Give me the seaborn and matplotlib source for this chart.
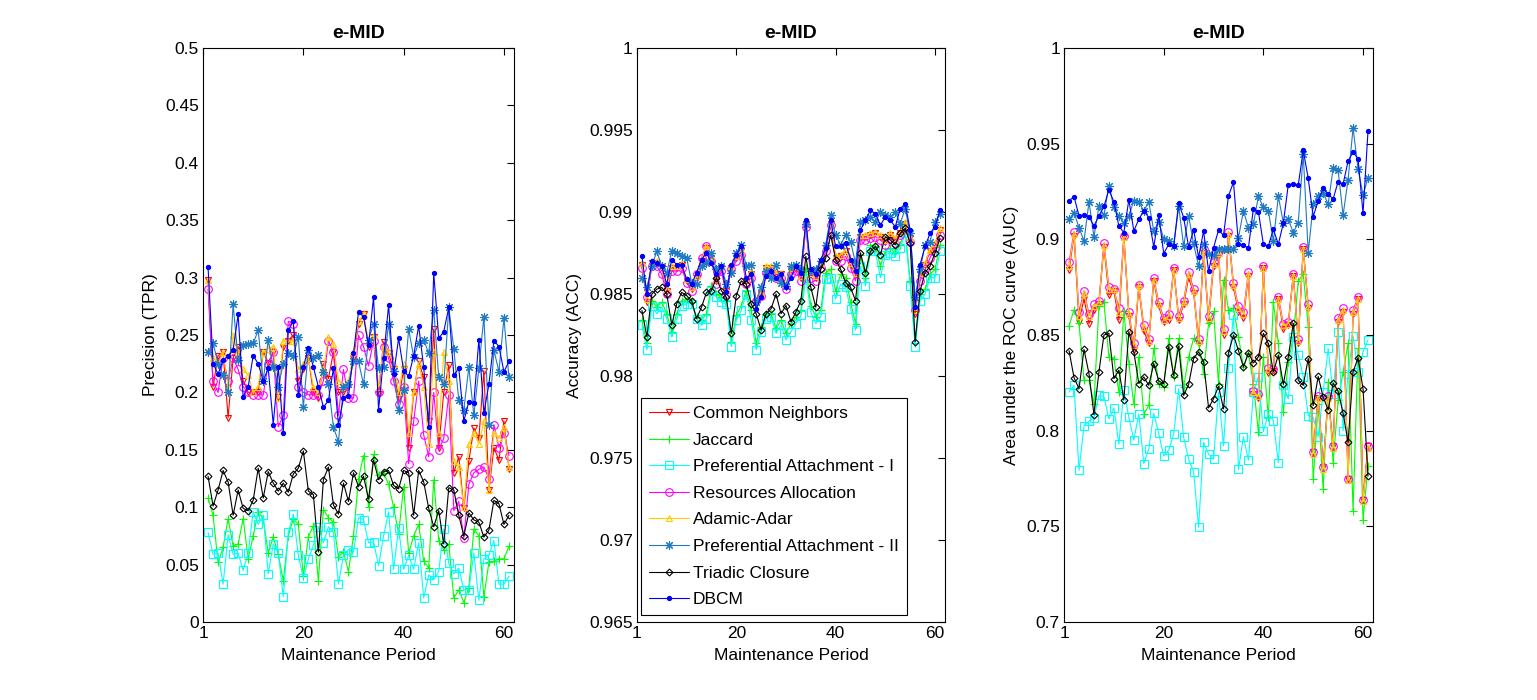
import matplotlib
matplotlib.use("Agg")
import matplotlib.pyplot as plt
import seaborn as sns

# ---------------- data ----------------
series_names = ["Common Neighbors", "Jaccard", "Preferential Attachment - I",
                "Resources Allocation", "Adamic-Adar", "Preferential Attachment - II",
                "Triadic Closure", "DBCM"]
x_ticks = [0, 20, 40, 60]
x_tick_labels = ["1", "20", "40", "60"]

# Panel 1: Precision (TPR)
prec_cn = [0.298,0.205,0.232,0.235,0.178,0.230,0.240,0.210,0.200,0.200,
           0.200,0.235,0.226,0.235,0.196,0.240,0.245,0.250,0.210,0.220,
           0.230,0.200,0.195,0.225,0.212,0.235,0.200,0.200,0.205,0.230,
           0.260,0.268,0.240,0.248,0.199,0.244,0.234,0.220,0.195,0.220,
           0.152,0.200,0.227,0.213,0.175,0.255,0.152,0.200,0.224,0.130,
           0.144,0.099,0.140,0.169,0.160,0.219,0.115,0.152,0.141,0.175,
           0.133]
prec_jac = [0.108,0.093,0.052,0.065,0.090,0.066,0.068,0.090,0.055,0.075,
            0.096,0.090,0.060,0.074,0.059,0.036,0.075,0.090,0.085,0.040,
            0.074,0.084,0.036,0.098,0.091,0.087,0.057,0.061,0.044,0.075,
            0.125,0.145,0.100,0.146,0.128,0.130,0.120,0.100,0.077,0.118,
            0.060,0.075,0.085,0.053,0.047,0.124,0.071,0.063,0.068,0.021,
            0.028,0.017,0.030,0.081,0.075,0.022,0.052,0.053,0.055,0.055,
            0.066]
prec_pa1 = [0.078,0.059,0.060,0.033,0.076,0.059,0.060,0.045,0.060,0.096,
            0.085,0.093,0.042,0.068,0.060,0.022,0.078,0.094,0.058,0.038,
            0.055,0.067,0.083,0.069,0.083,0.078,0.033,0.058,0.063,0.061,
            0.091,0.089,0.069,0.070,0.049,0.075,0.096,0.046,0.082,0.046,
            0.058,0.046,0.069,0.021,0.041,0.037,0.044,0.081,0.051,0.042,
            0.047,0.028,0.028,0.060,0.019,0.055,0.058,0.071,0.033,0.033,
            0.040]
prec_ra = [0.290,0.210,0.200,0.230,0.210,0.230,0.220,0.205,0.200,0.198,
           0.198,0.198,0.225,0.235,0.170,0.180,0.262,0.260,0.205,0.200,
           0.198,0.198,0.198,0.210,0.245,0.235,0.180,0.220,0.195,0.195,
           0.250,0.240,0.223,0.245,0.200,0.240,0.230,0.210,0.190,0.205,
           0.138,0.175,0.210,0.163,0.144,0.200,0.150,0.160,0.198,0.097,
           0.105,0.073,0.120,0.130,0.133,0.135,0.125,0.172,0.152,0.165,
           0.145]
prec_aa = [0.298,0.230,0.225,0.235,0.205,0.250,0.235,0.220,0.215,0.200,
           0.205,0.235,0.238,0.240,0.195,0.245,0.245,0.245,0.220,0.225,
           0.230,0.205,0.200,0.220,0.248,0.242,0.210,0.205,0.210,0.235,
           0.262,0.268,0.245,0.250,0.205,0.240,0.235,0.225,0.200,0.225,
           0.165,0.200,0.225,0.205,0.155,0.235,0.165,0.235,0.210,0.140,
           0.135,0.100,0.155,0.165,0.155,0.175,0.115,0.165,0.160,0.170,
           0.135]
prec_pa2 = [0.235,0.243,0.225,0.215,0.200,0.277,0.228,0.241,0.242,0.243,
            0.254,0.210,0.246,0.222,0.205,0.225,0.234,0.232,0.248,0.187,
            0.237,0.230,0.233,0.218,0.207,0.170,0.157,0.205,0.207,0.227,
            0.227,0.207,0.246,0.260,0.221,0.222,0.260,0.219,0.185,0.202,
            0.255,0.231,0.243,0.246,0.234,0.272,0.213,0.207,0.274,0.238,
            0.193,0.185,0.222,0.180,0.221,0.266,0.172,0.237,0.218,0.265,
            0.213]
prec_tc = [0.127,0.101,0.115,0.132,0.122,0.093,0.115,0.099,0.097,0.106,
           0.134,0.108,0.131,0.121,0.114,0.121,0.113,0.129,0.134,0.149,
           0.114,0.111,0.061,0.124,0.135,0.102,0.094,0.121,0.105,0.130,
           0.118,0.127,0.107,0.141,0.124,0.131,0.132,0.119,0.116,0.132,
           0.130,0.093,0.132,0.122,0.099,0.083,0.097,0.068,0.117,0.115,
           0.093,0.075,0.095,0.089,0.087,0.074,0.080,0.106,0.103,0.085,
           0.093]
prec_dbcm = [0.309,0.225,0.216,0.228,0.232,0.237,0.268,0.196,0.205,0.232,
             0.225,0.210,0.221,0.172,0.222,0.165,0.254,0.262,0.198,0.222,
             0.239,0.222,0.205,0.187,0.193,0.221,0.172,0.195,0.197,0.234,
             0.270,0.266,0.241,0.283,0.185,0.230,0.276,0.216,0.247,0.219,
             0.214,0.232,0.258,0.222,0.170,0.304,0.247,0.253,0.274,0.215,
             0.221,0.175,0.192,0.191,0.246,0.182,0.207,0.245,0.240,0.218,
             0.227]

# Panel 2: Accuracy (ACC)
acc_cn = [0.9868,0.9845,0.9869,0.9869,0.9866,0.9852,0.9866,0.9866,0.9868,0.9858,
          0.9853,0.9860,0.9870,0.9878,0.9872,0.9858,0.9866,0.9852,0.9866,0.9872,
          0.9876,0.9858,0.9862,0.9845,0.9850,0.9866,0.9866,0.9862,0.9862,0.9855,
          0.9865,0.9866,0.9860,0.9892,0.9862,0.9860,0.9868,0.9878,0.9893,0.9872,
          0.9873,0.9876,0.9868,0.9862,0.9885,0.9885,0.9886,0.9887,0.9885,0.9882,
          0.9886,0.9883,0.9887,0.9893,0.9884,0.9838,0.9862,0.9868,0.9876,0.9880,
          0.9889]
acc_jac = [0.9834,0.9820,0.9846,0.9842,0.9845,0.9838,0.9827,0.9838,0.9846,0.9847,
           0.9845,0.9836,0.9834,0.9838,0.9855,0.9850,0.9848,0.9846,0.9821,0.9837,
           0.9843,0.9852,0.9840,0.9820,0.9830,0.9838,0.9838,0.9829,0.9834,0.9826,
           0.9832,0.9836,0.9840,0.9866,0.9843,0.9836,0.9840,0.9863,0.9865,0.9852,
           0.9862,0.9860,0.9845,0.9832,0.9874,0.9860,0.9880,0.9879,0.9867,0.9876,
           0.9878,0.9875,0.9880,0.9889,0.9858,0.9820,0.9850,0.9853,0.9862,0.9865,
           0.9880]
acc_pa1 = [0.9831,0.9816,0.9843,0.9838,0.9842,0.9835,0.9824,0.9835,0.9843,0.9844,
           0.9844,0.9835,0.9831,0.9835,0.9852,0.9848,0.9845,0.9844,0.9818,0.9834,
           0.9840,0.9850,0.9834,0.9816,0.9827,0.9835,0.9836,0.9826,0.9831,0.9822,
           0.9827,0.9832,0.9837,0.9860,0.9839,0.9832,0.9836,0.9859,0.9860,0.9847,
           0.9856,0.9854,0.9841,0.9828,0.9867,0.9855,0.9876,0.9876,0.9860,0.9874,
           0.9875,0.9873,0.9878,0.9887,0.9855,0.9818,0.9846,0.9850,0.9860,0.9860,
           0.9876]
acc_ra = [0.9866,0.9848,0.9867,0.9867,0.9862,0.9850,0.9864,0.9864,0.9866,0.9857,
          0.9852,0.9862,0.9872,0.9879,0.9870,0.9856,0.9864,0.9850,0.9865,0.9870,
          0.9874,0.9856,0.9860,0.9846,0.9849,0.9863,0.9864,0.9860,0.9860,0.9853,
          0.9862,0.9864,0.9858,0.9891,0.9860,0.9858,0.9866,0.9876,0.9892,0.9870,
          0.9870,0.9873,0.9866,0.9858,0.9883,0.9883,0.9884,0.9885,0.9883,0.9880,
          0.9884,0.9881,0.9886,0.9890,0.9882,0.9840,0.9858,0.9865,0.9872,0.9878,
          0.9886]
acc_aa = [0.9869,0.9847,0.9870,0.9870,0.9867,0.9853,0.9867,0.9867,0.9869,0.9859,
          0.9854,0.9861,0.9871,0.9879,0.9873,0.9859,0.9867,0.9853,0.9867,0.9873,
          0.9877,0.9859,0.9864,0.9846,0.9851,0.9867,0.9867,0.9863,0.9863,0.9856,
          0.9866,0.9867,0.9861,0.9893,0.9863,0.9861,0.9869,0.9879,0.9894,0.9873,
          0.9874,0.9877,0.9869,0.9863,0.9886,0.9886,0.9887,0.9888,0.9886,0.9883,
          0.9887,0.9884,0.9888,0.9894,0.9885,0.9840,0.9863,0.9869,0.9877,0.9881,
          0.9890]
acc_pa2 = [0.9860,0.9854,0.9867,0.9876,0.9867,0.9863,0.9876,0.9875,0.9873,0.9872,
           0.9857,0.9856,0.9867,0.9869,0.9875,0.9865,0.9867,0.9856,0.9863,0.9875,
           0.9880,0.9867,0.9868,0.9845,0.9854,0.9864,0.9860,0.9868,0.9857,0.9855,
           0.9867,0.9868,0.9865,0.9893,0.9864,0.9865,0.9870,0.9880,0.9898,0.9886,
           0.9880,0.9886,0.9882,0.9869,0.9894,0.9895,0.9897,0.9894,0.9900,0.9898,
           0.9897,0.9900,0.9893,0.9902,0.9887,0.9848,0.9865,0.9880,0.9882,0.9894,
           0.9899]
acc_tc = [0.9840,0.9824,0.9850,0.9853,0.9854,0.9850,0.9831,0.9844,0.9851,0.9849,
          0.9846,0.9835,0.9842,0.9851,0.9852,0.9860,0.9852,0.9848,0.9826,0.9849,
          0.9858,0.9856,0.9844,0.9838,0.9828,0.9838,0.9841,0.9850,0.9838,0.9843,
          0.9833,0.9839,0.9846,0.9873,0.9854,0.9842,0.9865,0.9872,0.9886,0.9871,
          0.9865,0.9857,0.9854,0.9846,0.9875,0.9863,0.9876,0.9879,0.9874,0.9885,
          0.9883,0.9880,0.9887,0.9890,0.9881,0.9821,0.9852,0.9863,0.9867,0.9875,
          0.9884]
acc_dbcm = [0.9873,0.9850,0.9870,0.9869,0.9867,0.9856,0.9871,0.9868,0.9868,0.9859,
            0.9856,0.9863,0.9871,0.9875,0.9869,0.9862,0.9867,0.9851,0.9868,0.9874,
            0.9879,0.9860,0.9862,0.9841,0.9848,0.9861,0.9864,0.9860,0.9862,0.9854,
            0.9860,0.9867,0.9863,0.9895,0.9865,0.9862,0.9871,0.9878,0.9895,0.9879,
            0.9879,0.9881,0.9871,0.9864,0.9889,0.9895,0.9901,0.9899,0.9892,0.9897,
            0.9895,0.9891,0.9902,0.9905,0.9889,0.9842,0.9868,0.9879,0.9887,0.9891,
            0.9901]

# Panel 3: AUC
auc_cn = [0.884,0.902,0.857,0.869,0.856,0.863,0.866,0.896,0.871,0.873,
          0.858,0.901,0.860,0.842,0.875,0.852,0.846,0.878,0.865,0.857,
          0.858,0.884,0.858,0.866,0.880,0.872,0.846,0.893,0.857,0.886,
          0.892,0.850,0.902,0.875,0.862,0.859,0.881,0.819,0.817,0.885,
          0.830,0.831,0.869,0.853,0.855,0.881,0.846,0.895,0.864,0.789,
          0.817,0.781,0.817,0.792,0.857,0.862,0.775,0.861,0.869,0.764,
          0.792]
auc_jac = [0.8547,0.8632,0.8561,0.8263,0.8263,0.8140,0.8653,0.8670,0.8386,0.8377,
           0.8202,0.8623,0.8351,0.8137,0.8386,0.8088,0.8132,0.8430,0.8246,0.8228,
           0.8482,0.8281,0.8482,0.8228,0.8386,0.8482,0.8456,0.8298,0.8561,0.8623,
           0.8246,0.8789,0.8632,0.8640,0.8491,0.8333,0.8404,0.8246,0.7991,0.8386,
           0.8070,0.8675,0.8456,0.8096,0.8360,0.8491,0.8781,0.8820,0.8544,0.7746,
           0.8140,0.7693,0.8254,0.7833,0.8158,0.8307,0.8456,0.7579,0.8430,0.7535,
           0.7816]
auc_pa1 = [0.8202,0.8237,0.7793,0.8026,0.8049,0.8067,0.8184,0.8179,0.8061,0.8119,
           0.7930,0.8211,0.8070,0.7951,0.8088,0.7828,0.7904,0.8091,0.7986,0.7868,
           0.7898,0.7982,0.8219,0.7965,0.7851,0.7786,0.7495,0.7939,0.7877,0.7851,
           0.8202,0.7921,0.8330,0.8605,0.7798,0.7968,0.7846,0.8202,0.8281,0.7996,
           0.8088,0.8053,0.7833,0.8237,0.8167,0.8491,0.8395,0.8281,0.8079,0.8070,
           0.7968,0.8202,0.8430,0.8193,0.8518,0.8000,0.8298,0.8495,0.8307,0.8412,
           0.8474]
auc_ra = [0.888,0.904,0.862,0.873,0.861,0.866,0.868,0.898,0.875,0.874,
          0.864,0.902,0.862,0.846,0.876,0.855,0.848,0.880,0.867,0.859,
          0.861,0.885,0.860,0.868,0.883,0.874,0.848,0.895,0.860,0.888,
          0.894,0.853,0.904,0.877,0.865,0.862,0.883,0.821,0.819,0.886,
          0.833,0.832,0.870,0.856,0.857,0.882,0.848,0.896,0.866,0.789,
          0.818,0.781,0.818,0.792,0.859,0.864,0.775,0.863,0.870,0.764,
          0.792]
auc_aa = [0.886,0.903,0.860,0.872,0.860,0.865,0.867,0.897,0.874,0.874,
          0.862,0.901,0.861,0.845,0.876,0.854,0.847,0.879,0.866,0.858,
          0.860,0.884,0.859,0.867,0.882,0.873,0.847,0.894,0.859,0.887,
          0.893,0.852,0.903,0.876,0.864,0.861,0.882,0.820,0.818,0.885,
          0.832,0.831,0.869,0.855,0.856,0.881,0.847,0.895,0.865,0.788,
          0.817,0.780,0.817,0.791,0.858,0.863,0.774,0.862,0.869,0.763,
          0.791]
auc_pa2 = [0.9105,0.9140,0.9061,0.8991,0.9196,0.9014,0.9172,0.9126,0.9281,0.9167,
           0.9123,0.9084,0.9123,0.9202,0.9196,0.9149,0.9196,0.9044,0.9091,0.9004,
           0.8991,0.8965,0.9172,0.8965,0.9123,0.8974,0.8863,0.8977,0.8921,0.8916,
           0.8951,0.8951,0.8947,0.8947,0.9009,0.9149,0.9061,0.9079,0.9225,0.9167,
           0.9149,0.8991,0.9225,0.9088,0.9105,0.9035,0.9088,0.9447,0.8930,0.9184,
           0.9228,0.9242,0.9184,0.9372,0.9360,0.9126,0.9312,0.9582,0.9368,0.9232,
           0.9321]
auc_tc = [0.8418,0.8277,0.8219,0.8425,0.8298,0.8084,0.8307,0.8500,0.8509,0.8272,
          0.8316,0.8161,0.8518,0.8412,0.8246,0.8281,0.8237,0.8351,0.8260,0.8246,
          0.8439,0.8289,0.8442,0.8184,0.8242,0.8377,0.8412,0.8360,0.8119,0.8167,
          0.8232,0.8114,0.8407,0.8500,0.8418,0.8333,0.8407,0.8354,0.8386,0.8509,
          0.8456,0.8307,0.8395,0.8242,0.8386,0.8561,0.8263,0.8237,0.8377,0.8132,
          0.8284,0.8175,0.8109,0.8249,0.8207,0.8091,0.7939,0.8307,0.8381,0.8219,
          0.7763]
auc_dbcm = [0.9202,0.9223,0.9123,0.9128,0.9119,0.9070,0.9123,0.9172,0.9260,0.9196,
            0.9070,0.9035,0.9207,0.9044,0.9105,0.9149,0.9114,0.8960,0.9126,0.8926,
            0.8974,0.8965,0.9189,0.9114,0.8960,0.9049,0.8907,0.9044,0.8833,0.8956,
            0.9049,0.9021,0.9228,0.9298,0.8977,0.8968,0.8956,0.9161,0.9144,0.8974,
            0.8965,0.9053,0.8974,0.9084,0.9286,0.9289,0.9284,0.9465,0.9319,0.9119,
            0.9202,0.9267,0.9237,0.9211,0.9302,0.9289,0.9409,0.9456,0.9421,0.9137,
            0.9567]

prec_series = [prec_cn, prec_jac, prec_pa1, prec_ra, prec_aa, prec_pa2, prec_tc, prec_dbcm]
acc_series = [acc_cn, acc_jac, acc_pa1, acc_ra, acc_aa, acc_pa2, acc_tc, acc_dbcm]
auc_series = [auc_cn, auc_jac, auc_pa1, auc_ra, auc_aa, auc_pa2, auc_tc, auc_dbcm]

prec_ticks = [0, 0.05, 0.1, 0.15, 0.2, 0.25, 0.3, 0.35, 0.4, 0.45, 0.5]
acc_ticks = [0.965, 0.97, 0.975, 0.98, 0.985, 0.99, 0.995, 1.0]
auc_ticks = [0.7, 0.75, 0.8, 0.85, 0.9, 0.95, 1.0]

# ---------------- style ----------------
sns.set_theme(style="white")
plt.rcParams["font.family"] = ["Liberation Sans", "DejaVu Sans"]
plt.rcParams["text.color"] = "black"
plt.rcParams["axes.labelcolor"] = "black"
plt.rcParams["xtick.color"] = "black"
plt.rcParams["ytick.color"] = "black"

FS = 12.5
colors = ["#ff0000", "#00ff00", "#00ffff", "#ff00ff", "#ffcc00", "#1f7ac4", "#000000", "#0000ff"]
markers = ["v", "+", "s", "o", "^", (8, 2, 0), "D", "."]
msizes = [5, 6, 5.5, 5.5, 5, 6.5, 3.5, 6]
filled = [False, True, False, False, False, True, False, True]

fig = plt.figure(figsize=(15.37, 7.0), dpi=100)
rects = [[0.1321, 0.1114, 0.2023, 0.82],
         [0.4144, 0.1114, 0.2004, 0.82],
         [0.6923, 0.1114, 0.2010, 0.82]]
panels = [
    (prec_series, "Precision (TPR)", (0, 0.5), prec_ticks, ["0", "0.05", "0.1", "0.15", "0.2", "0.25", "0.3", "0.35", "0.4", "0.45", "0.5"]),
    (acc_series, "Accuracy (ACC)", (0.965, 1.0), acc_ticks, ["0.965", "0.97", "0.975", "0.98", "0.985", "0.99", "0.995", "1"]),
    (auc_series, "Area under the ROC curve (AUC)", (0.7, 1.0), auc_ticks, ["0.7", "0.75", "0.8", "0.85", "0.9", "0.95", "1"]),
]

for pi, (series, ylabel, ylim, yt, ytl) in enumerate(panels):
    ax = fig.add_axes(rects[pi])
    for si, vals in enumerate(series):
        xs = list(range(1, len(vals) + 1))
        c = colors[si]
        sns.lineplot(x=xs, y=vals, ax=ax, color=c, marker=markers[si],
                     markersize=msizes[si],
                     markerfacecolor=(c if filled[si] else "none"),
                     markeredgecolor=c, markeredgewidth=0.8,
                     linewidth=0.8, errorbar=None, sort=False,
                     label=series_names[si])
    ax.set_xlim(0, 62)
    ax.set_ylim(*ylim)
    ax.set_xticks(x_ticks)
    ax.set_xticklabels(x_tick_labels)
    ax.set_yticks(yt)
    ax.set_yticklabels(ytl)
    ax.tick_params(direction="in", length=5, width=0.8, top=True, right=True,
                   labelsize=FS, pad=3)
    for sp in ax.spines.values():
        sp.set_color("black")
        sp.set_linewidth(0.8)
    ax.set_xlabel("Maintenance Period", fontsize=FS, labelpad=5)
    ax.set_ylabel(ylabel, fontsize=FS, labelpad=5)
    ax.set_title("e-MID", fontsize=14, fontweight="bold", pad=7)
    leg = ax.get_legend()
    if leg is not None:
        leg.remove()
    if pi == 1:
        lg = ax.legend(loc="lower left", bbox_to_anchor=(0.013, 0.012),
                       fontsize=FS, frameon=True, fancybox=False,
                       edgecolor="black", framealpha=1, borderaxespad=0,
                       handlelength=2.3, labelspacing=0.66, borderpad=0.45,
                       numpoints=1, handletextpad=0.25)
        lg.get_frame().set_linewidth(0.8)

fig.savefig("out.png", dpi=100, facecolor="white")
